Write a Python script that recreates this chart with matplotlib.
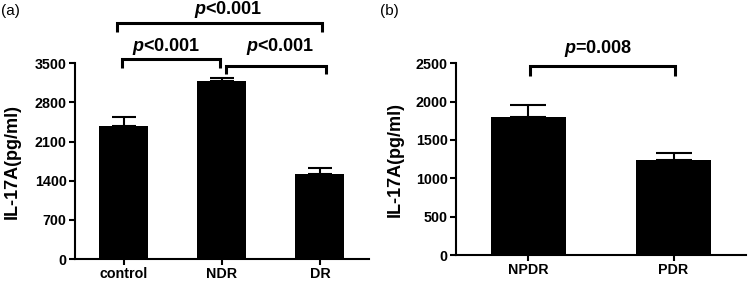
import matplotlib
matplotlib.use("Agg")
import matplotlib.pyplot as plt
import numpy as np

plt.rcParams['font.family'] = ['Liberation Sans', 'DejaVu Sans']
plt.rcParams['font.weight'] = 'bold'
plt.rcParams['axes.labelweight'] = 'bold'
plt.rcParams['mathtext.fontset'] = 'custom'
plt.rcParams['mathtext.it'] = 'Liberation Sans:italic:bold'
plt.rcParams['mathtext.rm'] = 'Liberation Sans:bold'

# panel (a)
groups_a = ['control', 'NDR', 'DR']
means_a = [2380, 3180, 1525]
errs_a = [155, 60, 95]
yticks_a = [0, 700, 1400, 2100, 2800, 3500]

# panel (b)
groups_b = ['NPDR', 'PDR']
means_b = [1800, 1245]
errs_b = [155, 85]
yticks_b = [0, 500, 1000, 1500, 2000, 2500]

fig = plt.figure(figsize=(7.49, 2.83), dpi=100)
ax1 = fig.add_axes([0.1001, 0.0848, 0.3925, 0.6915])
ax2 = fig.add_axes([0.6088, 0.0989, 0.3872, 0.6774])


def style(ax, ticks):
    for s in ['top', 'right']:
        ax.spines[s].set_visible(False)
    for s in ['left', 'bottom']:
        ax.spines[s].set_linewidth(1.5)
    ax.set_yticks(ticks)
    ax.set_ylim(ticks[0], ticks[-1])
    ax.tick_params(width=1.5, length=4, labelsize=10.3, pad=2)
    ax.set_ylabel('IL-17A(pg/ml)', fontsize=13, fontweight='bold')


def bracket(ax, x0, x1, y, y0l, y0r, lw=2.2):
    ax.plot([x0, x0, x1, x1], [y0l, y, y, y0r], color='black', lw=lw,
            clip_on=False, solid_capstyle='butt', solid_joinstyle='miter')


x_a = np.arange(len(groups_a))
ax1.bar(x_a, means_a, width=0.5, color='black')
ax1.errorbar(x_a, means_a, yerr=[np.zeros(3), errs_a], fmt='none',
             ecolor='black', elinewidth=1.5, capsize=8.5, capthick=1.5)
ax1.set_xticks(x_a)
ax1.set_xticklabels(groups_a)
ax1.set_xlim(-0.5, 2.5)
style(ax1, yticks_a)
ax1.yaxis.set_label_coords(-0.185, 0.5)

bracket(ax1, -0.07, 2.02, 4216, 4055, 4055)
bracket(ax1, -0.02, 0.98, 3572, 3411, 3411)
bracket(ax1, 1.04, 2.06, 3452, 3309, 3309)
ax1.text(1.06, 4454, '$p$<0.001', ha='center', va='center', fontsize=13, clip_on=False)
ax1.text(0.435, 3797, '$p$<0.001', ha='center', va='center', fontsize=13, clip_on=False)
ax1.text(1.59, 3797, '$p$<0.001', ha='center', va='center', fontsize=13, clip_on=False)

x_b = np.arange(len(groups_b))
ax2.bar(x_b, means_b, width=0.52, color='black')
ax2.errorbar(x_b, means_b, yerr=[np.zeros(2), errs_b], fmt='none',
             ecolor='black', elinewidth=1.5, capsize=13, capthick=1.5)
ax2.set_xticks(x_b)
ax2.set_xticklabels(groups_b)
ax2.set_xlim(-0.5, 1.5)
style(ax2, yticks_b)
ax2.yaxis.set_label_coords(-0.18, 0.5)

bracket(ax2, 0.01, 1.01, 2461, 2335, 2335)
ax2.text(0.48, 2691, '$p$=0.008', ha='center', va='center', fontsize=13, clip_on=False)

fig.text(0.002, 0.985, '(a)', ha='left', va='top', fontsize=11, fontweight='normal')
fig.text(0.507, 0.985, '(b)', ha='left', va='top', fontsize=11, fontweight='normal')

fig.savefig('out.png', dpi=100)
